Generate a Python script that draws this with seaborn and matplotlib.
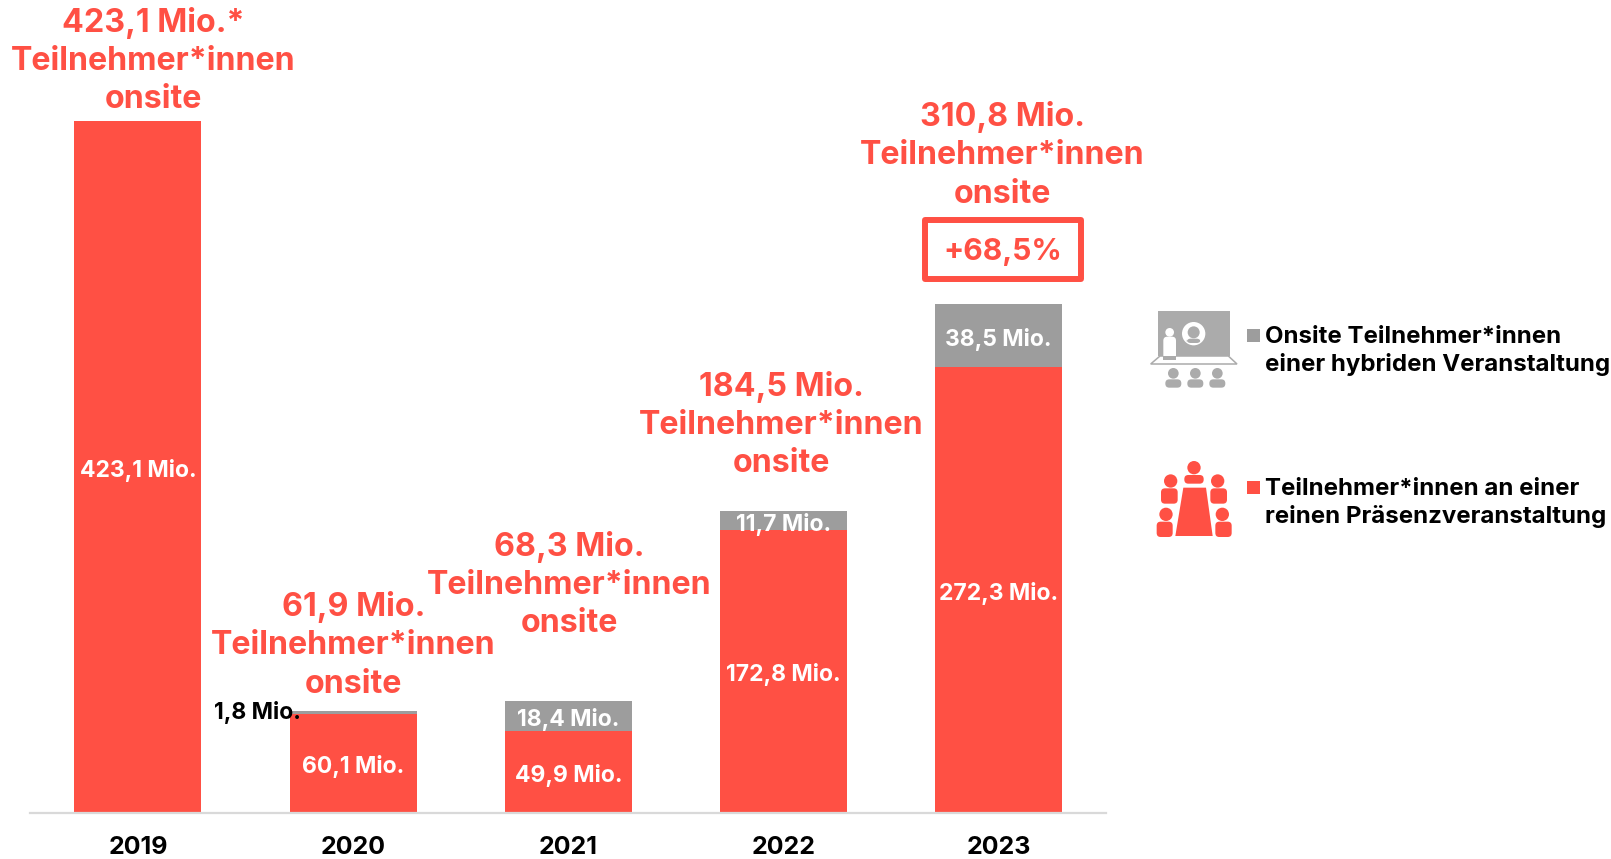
import matplotlib
matplotlib.use("Agg")
import matplotlib.pyplot as plt
from matplotlib.patches import Circle, FancyBboxPatch, Polygon, Rectangle
import seaborn as sns

years = ["2019", "2020", "2021", "2022", "2023"]
praesenz = [423.1, 60.1, 49.9, 172.8, 272.3]
hybrid = [0, 1.8, 18.4, 11.7, 38.5]
praesenz_labels = ["423,1 Mio.", "60,1 Mio.", "49,9 Mio.", "172,8 Mio.", "272,3 Mio."]
hybrid_labels = ["", "1,8 Mio.", "18,4 Mio.", "11,7 Mio.", "38,5 Mio."]
totals = ["423,1 Mio.*", "61,9 Mio.", "68,3 Mio.", "184,5 Mio.", "310,8 Mio."]
growth = "+68,5%"
legend_hybrid = "Onsite Teilnehmer*innen\neiner hybriden Veranstaltung"
legend_praesenz = "Teilnehmer*innen an einer\nreinen Präsenzveranstaltung"

RED = "#FF5044"
GREY = "#9D9D9D"
ICON_GREY = "#ABABAB"

sns.set_theme(style="white")
plt.rcParams["font.family"] = ["Inter", "DejaVu Sans"]

W, H = 1611, 859
fig = plt.figure(figsize=(W / 100, H / 100), dpi=100)
ax = fig.add_axes([30.3 / W, 1 - 812.5 / H, 1076 / W, 812.5 / H])

sns.barplot(x=years, y=praesenz, color=RED, saturation=1, width=0.59, linewidth=0, ax=ax)
sns.barplot(x=years, y=hybrid, bottom=praesenz, color=GREY, saturation=1, width=0.59, linewidth=0, ax=ax)
ax.set_xlim(-0.5, 4.5)
ax.set_ylim(0, 497)
ax.set_xlabel("")
ax.set_ylabel("")
ax.set_yticks([])
sns.despine(ax=ax, left=True)
ax.spines["bottom"].set_color("#D9D9D9")
ax.spines["bottom"].set_linewidth(1.6)
ax.tick_params(axis="x", length=0, pad=17)
for t in ax.get_xticklabels():
    t.set_fontsize(18)
    t.set_fontweight("bold")
    t.set_color("black")

for i in range(len(years)):
    ax.text(i, praesenz[i] / 2 - 2.2, praesenz_labels[i], color="white", fontsize=16.5,
            fontweight="bold", ha="center", va="center")
    if hybrid[i] > 5:
        ax.text(i, praesenz[i] + hybrid[i] / 2 - 2.2, hybrid_labels[i], color="white", fontsize=16.5,
                fontweight="bold", ha="center", va="center")
ax.text(1 - 96 / 215.3, praesenz[1] + hybrid[1] / 2, hybrid_labels[1], color="black", fontsize=16.5,
        fontweight="bold", ha="center", va="center")

# overlay in pixel coordinates for the headers, legend and icons
ov = fig.add_axes([0, 0, 1, 1], facecolor="none")
ov.set_xlim(0, W)
ov.set_ylim(H, 0)
ov.axis("off")

header_pos = [(153.5, 61), (353.5, 645.5), (569.5, 585), (781, 425), (1002, 155.5)]
for (px, py), total in zip(header_pos, totals):
    ov.text(px, py, total + "\nTeilnehmer*innen\nonsite", color=RED, fontsize=23.2, fontweight="bold",
            ha="center", va="center", multialignment="center", linespacing=1.31)

ov.add_patch(Rectangle((925, 219.5), 155.5, 59.5, fill=False, edgecolor=RED, linewidth=4.3, joinstyle="round"))
ov.text(1003, 252, growth, color=RED, fontsize=21.6, fontweight="bold", ha="center", va="center")

# legend
ov.add_patch(Rectangle((1247, 329), 13, 13, color=GREY, linewidth=0))
ov.add_patch(Rectangle((1247, 481), 13, 13, color=RED, linewidth=0))
ov.text(1265, 351, legend_hybrid, color="black", fontsize=17.3, fontweight="bold",
        ha="left", va="center", linespacing=1.27)
ov.text(1265, 503, legend_praesenz, color="black", fontsize=17.3, fontweight="bold",
        ha="left", va="center", linespacing=1.27)


def zx(v):
    return 1130 + v / 3


def zy(v):
    return 290 + v / 3


def person(cx, cy, r, x0, x1, y0, y1, color):
    # head and rounded body, in zoomed crop units
    ov.add_patch(Circle((zx(cx), zy(cy)), r / 3, color=color, linewidth=0))
    ov.add_patch(FancyBboxPatch((zx(x0) + 2, zy(y0) + 2), (x1 - x0) / 3 - 4, (y1 - y0) / 3 - 3,
                                boxstyle="round,pad=2,rounding_size=4", color=color, linewidth=0))


# grey icon
ov.add_patch(Rectangle((zx(85), zy(64)), 215 / 3, 133 / 3, color=ICON_GREY, linewidth=0))
ov.add_patch(Polygon([(zx(90), zy(198)), (zx(295), zy(198)), (zx(321), zy(222)), (zx(62), zy(222))],
                     closed=True, facecolor="white", edgecolor=ICON_GREY, linewidth=1.1))
ov.add_patch(Circle((zx(191), zy(131)), 35 / 3, color="white", linewidth=0))
person(191, 127, 18, 170, 212, 146, 156, ICON_GREY)
person(119, 127, 13, 100, 138, 140, 208, "white")
ov.add_patch(Rectangle((zx(100), zy(198)), 38 / 3, 12 / 3, color=ICON_GREY, linewidth=0))
for cx in [130, 196, 262]:
    person(cx, 250, 16, cx - 24, cx + 24, 268, 290, ICON_GREY)

# red icon
ov.add_patch(Polygon([(zx(160), zy(593)), (zx(228), zy(593)), (zx(248), zy(738)), (zx(136), zy(738))],
                     closed=True, color=RED, linewidth=0))
person(192, 533, 20, 163, 221, 555, 578, RED)
person(122, 573, 20, 93, 143, 595, 638, RED)
person(263, 573, 20, 241, 291, 595, 638, RED)
person(108, 673, 20, 80, 128, 695, 738, RED)
person(277, 673, 20, 256, 305, 695, 738, RED)

fig.savefig("out.png", dpi=100)
